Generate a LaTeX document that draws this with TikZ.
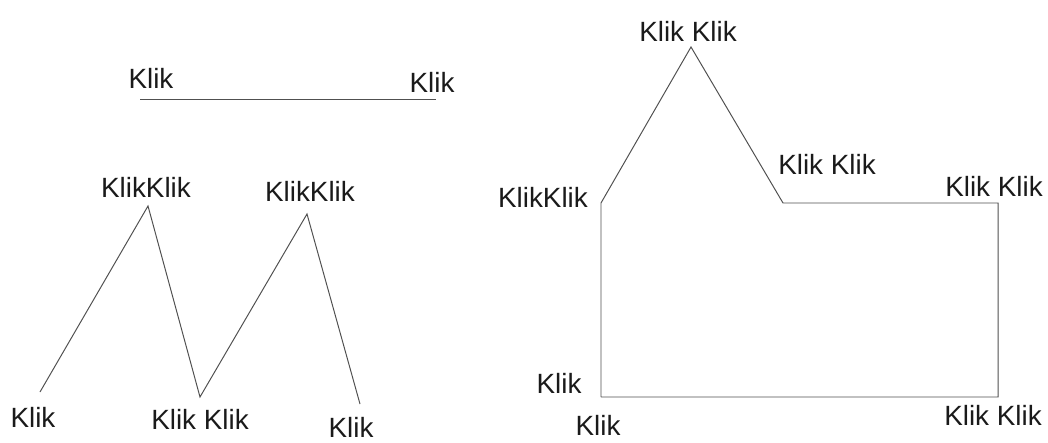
\documentclass[tikz,border=0pt]{standalone}
\usepackage{fontspec}
\setmainfont{Liberation Sans}
\usepackage{tikz}
\usetikzlibrary{positioning}
\definecolor{klikLine}{HTML}{505050}
\definecolor{klikText}{HTML}{1A1A1A}

\begin{document}
\begin{tikzpicture}[
        pt/.style={coordinate},
        klik/.style={inner sep=0pt, text=klikText, font=\fontsize{19.8}{22}\selectfont},
        stroke/.style={draw=klikLine, line width=0.7pt, line join=miter}
    ]
        \useasboundingbox (0,0) rectangle (26.2,11.05);

        % straight line
        \node[pt] (a1) at (3.5,8.575) {};
        \node[pt] (a2) at (10.9,8.575) {};
        \node[klik] (la1) at (3.775,9.1) {Klik};
        \node[klik] (la2) at (10.8,9.0) {Klik};

        % zigzag
        \node[pt] (z1) at (1.0,1.25) {};
        \node[pt] (z2) at (3.7,5.9) {};
        \node[pt] (z3) at (5.0,1.125) {};
        \node[pt] (z4) at (7.675,5.7) {};
        \node[pt] (z5) at (9.0,0.95) {};
        \node[klik] (lz1) at (0.825,0.625) {Klik};
        \node[klik] (lz2) at (3.65,6.375) {KlikKlik};
        \node[klik] (lz3) at (5.0,0.575) {Klik Klik};
        \node[klik] (lz4) at (7.75,6.275) {KlikKlik};
        \node[klik] (lz5) at (8.775,0.375) {Klik};

        % polygon
        \node[pt] (p1) at (15.025,1.125) {};
        \node[pt] (p2) at (15.025,5.975) {};
        \node[pt] (p3) at (17.275,9.875) {};
        \node[pt] (p4) at (19.575,5.975) {};
        \node[pt] (p5) at (24.95,5.975) {};
        \node[pt] (p6) at (24.95,1.125) {};
        \node[klik] (lp1) at (13.975,1.475) {Klik};
        \node[klik] (lp0) at (14.95,0.42) {Klik};
        \node[klik] (lp2) at (13.575,6.125) {KlikKlik};
        \node[klik] (lp3) at (17.2,10.275) {Klik Klik};
        \node[klik] (lp4) at (20.675,6.95) {Klik Klik};
        \node[klik] (lp5) at (24.85,6.4) {Klik Klik};
        \node[klik] (lp6) at (24.825,0.675) {Klik Klik};

        \draw[stroke] (a1) -- (a2);
        \draw[stroke] (z1) -- (z2) -- (z3) -- (z4) -- (z5);
        \draw[stroke] (p1) -- (p2) -- (p3) -- (p4) -- (p5) -- (p6) -- (p1);
    \end{tikzpicture}
\end{document}
